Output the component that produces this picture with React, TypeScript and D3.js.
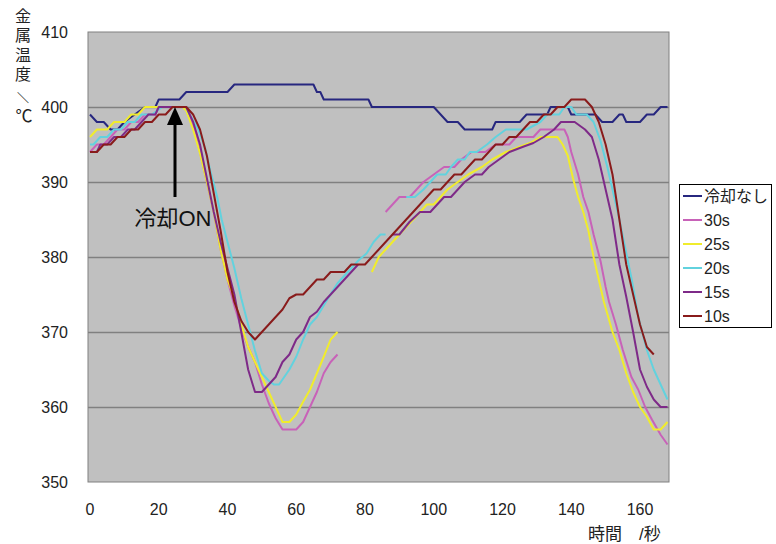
import React, { useEffect, useRef } from 'react';
import * as d3 from 'd3';

type Pt = [number, number | null];

// time (s) / temperature (°C) readings for each run
const noCooling: Pt[] = [
  [0, 399], [2, 398], [4, 398], [6, 397], [8, 397], [10, 398], [13, 399], [16, 400], [19, 400],
  [20, 401], [26, 401], [28, 402], [40, 402], [42, 403], [65, 403], [66, 402], [67, 402],
  [68, 401], [81, 401], [82, 400], [100, 400], [102, 399], [104, 398], [107, 398], [109, 397],
  [117, 397], [118, 398], [125, 398], [127, 399], [133, 399], [134, 400], [139, 400], [140, 399],
  [147, 399], [149, 398], [152, 398], [154, 399], [155, 399], [156, 398], [160, 398], [162, 399],
  [164, 399], [166, 400], [168, 400],
];

const cool30: Pt[] = [
  [0, 394], [2, 395], [4, 395], [6, 396], [8, 397], [10, 397], [12, 398], [14, 398], [16, 399],
  [19, 399], [20, 400], [28, 400], [30, 397.5], [32, 394], [34, 390], [36, 386], [38, 381],
  [40, 377], [42, 373.5], [44, 370.5], [46, 368], [48, 366], [50, 363], [52, 360.5], [54, 358.5],
  [56, 357], [60, 357], [62, 358], [64, 360], [66, 362], [68, 364.5], [70, 366], [72, 367],
  [73, null],
  [86, 386], [88, 387], [90, 388], [93, 388], [95, 389], [97, 390], [100, 391], [103, 392],
  [106, 392], [108, 393], [111, 394], [115, 394], [118, 395], [122, 395], [124, 396], [129, 396],
  [131, 397], [138, 397], [139, 396], [140, 394], [141, 392.5], [142, 391], [143.5, 388],
  [145, 386], [146.5, 383], [148.5, 379.5], [150, 376], [151, 374], [153, 371], [155, 367.6],
  [157.5, 364], [159.5, 362.3], [161.5, 360], [163.5, 358.3], [166, 356.3], [168, 355],
];

const cool25: Pt[] = [
  [0, 396], [2, 397], [5, 397], [7, 398], [10, 398], [12, 399], [14, 399], [16, 400], [27, 400],
  [28, 399.5], [30, 397], [32, 393.8], [34, 390], [36, 386], [38, 381], [40, 377], [42, 374.5],
  [44, 371], [46, 368], [48, 366], [50, 364], [52, 362], [54, 360], [56, 358], [58, 358],
  [60, 359], [62, 360.7], [64, 362.3], [66, 364.5], [68, 366.7], [70, 369], [72, 370],
  [73, null],
  [82, 378], [84, 380], [86, 381], [88, 382], [90, 383], [93, 384.5], [96, 386], [98, 387],
  [100, 387], [102, 388], [104, 389], [107, 390], [110, 391], [114, 392], [117, 393], [121, 394],
  [125, 394.7], [128, 395.2], [131, 396], [136, 396], [137.5, 395], [139, 393.5], [140.5, 390.5],
  [142, 388], [143.5, 386], [145, 383.5], [146.5, 380], [148, 377], [149.5, 374], [152, 370],
  [154, 367.6], [156, 364.5], [158, 362], [160, 360], [162, 358.7], [164, 357], [166, 357],
  [168, 358],
];

const cool20: Pt[] = [
  [0, 395], [1, 395], [3, 396], [5, 396], [7, 397], [9, 397], [11, 398], [13, 398], [15, 399],
  [18, 399], [21, 400], [28, 400], [29, 399], [31.5, 397], [33.5, 394.5], [35, 391.5], [37, 388],
  [38.3, 385], [40, 382], [42, 378.5], [44, 374.5], [46, 371], [48, 367.5], [50, 364.5],
  [52, 363.5], [53.5, 363], [55, 363], [58, 365], [60, 366.7], [62, 369], [64, 371], [66, 372],
  [69, 374.3], [72, 376.5], [75, 378], [78, 379.5], [80.5, 380.5], [82.5, 382], [84.5, 383],
  [86, 383],
  [87, null],
  [92, 388], [94.5, 388], [97, 389], [99, 390], [101, 391], [103.5, 391], [105, 392], [107, 393],
  [109, 393], [110.5, 394], [112.5, 394], [115.5, 395], [118, 396], [121, 397], [127, 397],
  [129, 397.5], [131, 398], [133, 399], [136.5, 399], [138, 400], [140, 400], [141.5, 399],
  [144.5, 399], [146.5, 398], [148.5, 395.5], [150.5, 392], [152, 389], [154, 385], [156, 380.5],
  [157.6, 377], [159.5, 372], [162, 367.6], [164, 365], [166, 363], [168, 361],
];

const cool15: Pt[] = [
  [0, 394], [2, 394], [3, 395], [5, 395], [7, 396], [9, 396], [11, 397], [13, 397], [15, 398],
  [17, 399], [19, 399], [20, 400], [28, 400], [30, 398], [32, 395], [34, 390.5], [36, 386],
  [38, 382], [40, 378.5], [42, 375], [44, 370], [46, 365], [48, 362], [50, 362], [52, 363],
  [54, 364], [56, 366], [58, 367], [60, 369], [62, 370], [64, 372], [66, 372.7], [68, 374],
  [70, 375], [72, 376], [74, 377], [76, 378], [78, 379],
  [79, null],
  [88, 383], [90, 383], [93, 384.7], [96, 386], [99, 386], [101, 387], [103, 388], [105, 388],
  [107, 389], [109, 390], [112, 391], [114, 391], [116, 392], [119, 393], [122, 394], [126, 394.7],
  [129, 395.2], [132, 396], [135, 397], [137, 398], [141, 398], [144, 397], [146, 396],
  [148, 393], [150, 389], [152, 385], [154, 379], [156, 374.7], [158, 370], [160, 365],
  [162, 362.7], [164, 361], [166, 360], [168, 360],
];

const cool10: Pt[] = [
  [0, 394], [2, 394], [4, 395], [6, 395], [8, 396], [10, 396], [12, 397], [14, 397], [16, 398],
  [18, 398], [20, 399], [22, 399], [24, 400], [28, 400], [30, 399], [32, 397], [34, 393.5],
  [35, 391], [36, 388.5], [38, 383.5], [40, 378], [42, 374], [44, 371.5], [46, 370], [48, 369],
  [50, 370], [52, 371], [54, 372], [56, 373], [58, 374.5], [60, 375], [62, 375], [64, 376],
  [66, 377], [68, 377], [70, 378], [74, 378], [76, 379], [80, 379], [82, 380], [84, 381],
  [86, 382], [88, 383], [90, 384], [92, 385], [94, 386], [96, 387], [98, 388], [100, 389],
  [102, 389], [104, 390], [106, 391], [108, 391], [110, 392], [112, 393], [114, 393], [116, 394],
  [118, 395], [120, 395], [122, 396], [124, 396], [126, 397], [128, 398], [130, 398], [132, 399],
  [134, 399], [136, 400], [138, 400], [140, 401], [144, 401], [146, 400], [148, 398], [150, 395],
  [152, 391], [154, 385], [156, 379], [158, 375], [160, 371], [162, 368], [164, 367],
];

const seriesNames = ['冷却なし', '30s', '25s', '20s', '15s', '10s'];
const seriesData = [noCooling, cool30, cool25, cool20, cool15, cool10];
const seriesColors = ['#27277f', '#c862b8', '#f0ec2c', '#62d2de', '#7e2a88', '#891b1b'];

const yTicks = [350, 360, 370, 380, 390, 400, 410];
const xTicks = [0, 20, 40, 60, 80, 100, 120, 140, 160];
const yTitleChars = ['金', '属', '温', '度'];

const FONT = "'Liberation Sans', 'Noto Sans CJK JP', sans-serif";

const App: React.FC = () => {
  const svgRef = useRef<SVGSVGElement>(null);

  useEffect(() => {
    if (!svgRef.current) return;
    const svg = d3.select(svgRef.current);
    svg.selectAll('*').remove();

    const left = 88, right = 669, top = 32, bottom = 482;
    const x = d3.scaleLinear().domain([0, 160]).range([90, 640]);
    const y = d3.scaleLinear().domain([350, 410]).range([bottom, top]);

    svg.append('rect').attr('width', 776).attr('height', 544).attr('fill', '#fff');

    // plot area
    svg.append('rect')
      .attr('x', left).attr('y', top)
      .attr('width', right - left).attr('height', bottom - top)
      .attr('fill', '#c0c0c0')
      .attr('stroke', '#808080');

    svg.append('g').selectAll('line')
      .data(yTicks.slice(1, -1))
      .enter().append('line')
      .attr('x1', left).attr('x2', right)
      .attr('y1', d => y(d) + 0.5).attr('y2', d => y(d) + 0.5)
      .attr('stroke', '#808080').attr('stroke-width', 1.5);

    // tick labels
    svg.append('g').selectAll('text')
      .data(yTicks)
      .enter().append('text')
      .attr('x', 68).attr('y', d => y(d))
      .attr('text-anchor', 'end').attr('dominant-baseline', 'central')
      .attr('font-family', FONT).attr('font-size', 16).attr('fill', '#222')
      .text(d => d);

    svg.append('g').selectAll('text')
      .data(xTicks)
      .enter().append('text')
      .attr('x', d => x(d)).attr('y', 509)
      .attr('text-anchor', 'middle').attr('dominant-baseline', 'central')
      .attr('font-family', FONT).attr('font-size', 16).attr('fill', '#222')
      .text(d => d);

    // series
    const line = d3.line<Pt>()
      .defined(d => d[1] !== null)
      .x(d => x(d[0]))
      .y(d => y(d[1] as number));

    seriesData.forEach((data, i) => {
      svg.append('path')
        .datum(data)
        .attr('d', line)
        .attr('fill', 'none')
        .attr('stroke', seriesColors[i])
        .attr('stroke-width', 2)
        .attr('stroke-linejoin', 'round');
    });

    // cooling ON annotation
    svg.append('line')
      .attr('x1', 175).attr('x2', 175).attr('y1', 197).attr('y2', 122)
      .attr('stroke', '#000').attr('stroke-width', 3);
    svg.append('path')
      .attr('d', 'M175,107 L167,125 L183,125 Z')
      .attr('fill', '#000');
    svg.append('text')
      .attr('x', 173).attr('y', 226)
      .attr('text-anchor', 'middle')
      .attr('font-family', FONT).attr('font-size', 22).attr('fill', '#111')
      .text('冷却ON');

    // axis titles
    svg.append('g').selectAll('text')
      .data(yTitleChars)
      .enter().append('text')
      .attr('x', 23).attr('y', (_, i) => 16 + i * 19.5)
      .attr('text-anchor', 'middle').attr('dominant-baseline', 'central')
      .attr('font-family', FONT).attr('font-size', 16).attr('fill', '#222')
      .text(d => d);
    svg.append('text')
      .attr('x', 23).attr('y', 99)
      .attr('text-anchor', 'middle').attr('dominant-baseline', 'central')
      .attr('font-family', FONT).attr('font-size', 12).attr('fill', '#222')
      .text('＼');
    svg.append('text')
      .attr('x', 24).attr('y', 116)
      .attr('text-anchor', 'middle').attr('dominant-baseline', 'central')
      .attr('font-family', FONT).attr('font-size', 17).attr('fill', '#222')
      .text('℃');

    svg.append('text')
      .attr('x', 588).attr('y', 534)
      .attr('dominant-baseline', 'central')
      .attr('font-family', FONT).attr('font-size', 17).attr('fill', '#222')
      .text('時間　/秒');

    // legend
    const lg = svg.append('g');
    lg.append('rect')
      .attr('x', 679.5).attr('y', 184.5).attr('width', 92).attr('height', 143)
      .attr('fill', '#fff').attr('stroke', '#000');
    const item = lg.selectAll('g.item')
      .data(seriesNames)
      .enter().append('g')
      .attr('transform', (_, i) => `translate(0, ${196 + i * 24})`);
    item.append('line')
      .attr('x1', 683).attr('x2', 702)
      .attr('stroke', (_, i) => seriesColors[i]).attr('stroke-width', 2);
    item.append('text')
      .attr('x', 704).attr('dominant-baseline', 'central')
      .attr('font-family', FONT).attr('font-size', 16).attr('fill', '#222')
      .text(d => d);
  }, []);

  return (
    <svg ref={svgRef} width={776} height={544}
      style={{ position: 'absolute', left: 0, top: 0, display: 'block' }} />
  );
};

export default App;
